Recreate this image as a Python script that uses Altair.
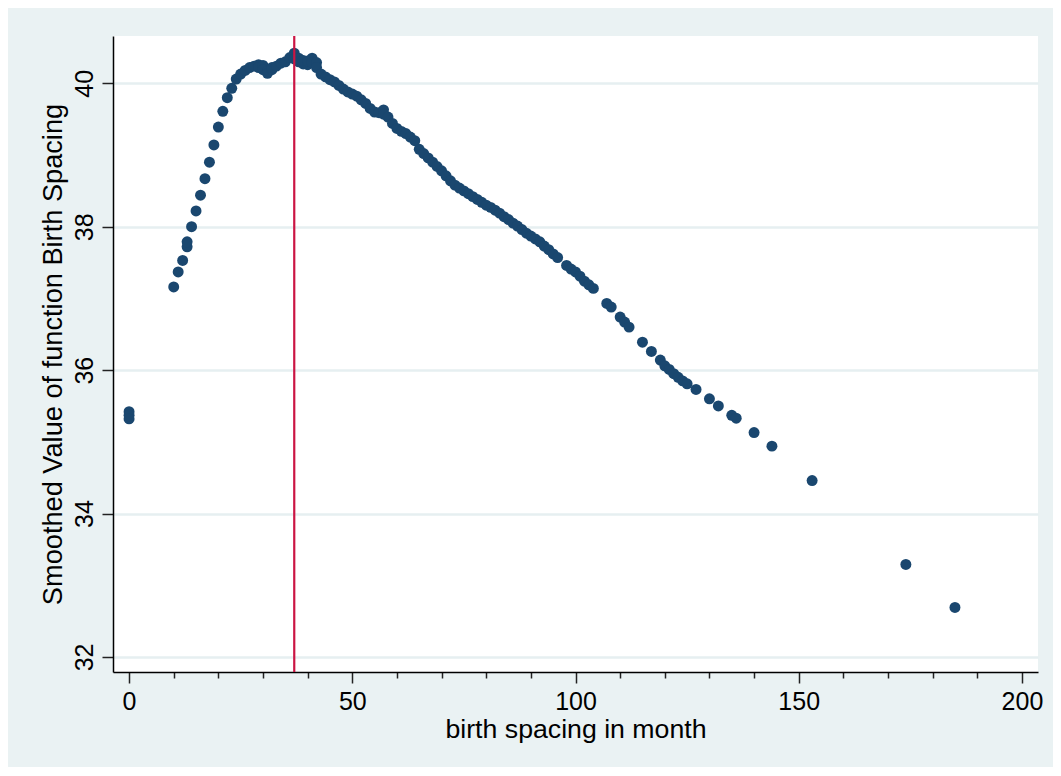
import altair as alt
import pandas as pd

# Smoothed values (month, smoothed value)
x_month = [
    0, 0, 0,
    10, 11, 12, 13, 13, 14, 15, 16, 17, 18, 19, 20, 21, 22, 23, 24, 25, 26, 27, 28, 29, 29,
    30, 30, 31, 31, 32, 32, 33, 34, 35, 36, 37, 37, 38, 38, 39, 39, 40, 40, 41, 41, 42, 42,
    43, 44, 45, 46, 47, 48, 49, 50, 51, 52, 53, 54, 55, 56, 57, 57, 58, 59, 60, 61, 62, 63, 64,
    65, 66, 67, 68, 69, 70, 71, 72, 73, 74, 75, 76, 77, 78, 79, 80, 81, 82, 83, 84, 85, 86,
    87, 88, 89, 90, 91, 92, 93, 94, 95, 96, 98, 99, 100, 101, 102, 103, 104,
    107, 108, 110, 111, 112, 115, 117, 119, 120, 121, 122, 123, 124, 125, 127,
    130, 132, 135, 136, 140, 144, 153, 174, 185,
]
y_smooth = [
    35.42, 35.37, 35.32,
    37.16, 37.37, 37.53, 37.72, 37.79, 38.00, 38.22, 38.44, 38.67, 38.90, 39.14, 39.39, 39.61,
    39.80, 39.93, 40.06, 40.13, 40.18, 40.22, 40.24, 40.26, 40.22,
    40.25, 40.19, 40.17, 40.14, 40.19, 40.22, 40.24, 40.28, 40.30, 40.36, 40.42, 40.34,
    40.35, 40.30, 40.27, 40.32, 40.26, 40.31, 40.35, 40.29, 40.29, 40.22,
    40.13, 40.09, 40.05, 40.02, 39.97, 39.92, 39.88, 39.85, 39.82, 39.77, 39.72, 39.65, 39.60,
    39.59, 39.63, 39.57, 39.53, 39.44, 39.37, 39.33, 39.30, 39.25, 39.20,
    39.08, 39.02, 38.96, 38.90, 38.84, 38.78, 38.71, 38.64, 38.58, 38.54, 38.50, 38.46, 38.42,
    38.38, 38.34, 38.30, 38.27, 38.23, 38.19, 38.14, 38.10, 38.05,
    38.01, 37.96, 37.91, 37.87, 37.83, 37.79, 37.73, 37.68, 37.62, 37.57, 37.46, 37.41, 37.37,
    37.31, 37.24, 37.19, 37.14,
    36.93, 36.88, 36.74, 36.67, 36.60, 36.39, 36.26, 36.14, 36.06, 36.01, 35.95, 35.90, 35.85,
    35.81, 35.73,
    35.60, 35.50, 35.37, 35.33, 35.13, 34.94, 34.46, 33.29, 32.69,
]
xline_at = [37]

x_ticks = list(range(0, 201, 10))
y_ticks = [32, 34, 36, 38, 40]

df = pd.DataFrame({"x": x_month, "y": y_smooth})
df_line = pd.DataFrame({"x": xline_at})

FONT = "Liberation Sans"
NAVY = "#1A476F"
RED = "#CB1543"
BG = "#EAF2F3"

x_scale = alt.Scale(domain=[-3.6, 203.6], nice=False, zero=False)
y_scale = alt.Scale(domain=[31.79, 40.66], nice=False, zero=False)

x_axis = alt.Axis(
    values=x_ticks,
    tickSize={"condition": {"test": "datum.value % 50 === 0", "value": 11}, "value": 6},
    labelExpr="datum.value % 50 === 0 ? datum.label : ''",
    labelFlush=False,
    labelOverlap=False,
    grid=False,
    domainColor="#000000",
    domainWidth=1.5,
    tickColor="#222222",
    tickWidth=1.5,
    labelFont=FONT,
    labelFontSize=25,
    labelColor="#000000",
    labelPadding=6,
    titleFont=FONT,
    titleFontSize=26.7,
    titleFontWeight="normal",
    titleColor="#000000",
    titlePadding=2,
)
y_axis = alt.Axis(
    values=y_ticks,
    tickSize=11,
    labelAngle=270,
    labelAlign="center",
    labelBaseline="alphabetic",
    labelFlush=False,
    labelOverlap=False,
    grid=True,
    gridColor="#E6EFF1",
    gridWidth=2.5,
    domainColor="#000000",
    domainWidth=1.5,
    tickColor="#222222",
    tickWidth=1.5,
    labelFont=FONT,
    labelFontSize=25,
    labelColor="#000000",
    labelPadding=10,
    titleFont=FONT,
    titleFontSize=27.2,
    titleFontWeight="normal",
    titleColor="#000000",
    titlePadding=5,
)

points = alt.Chart(df).mark_circle(size=120, color=NAVY, opacity=1).encode(
    x=alt.X("x:Q", scale=x_scale, axis=x_axis, title="birth spacing in month"),
    y=alt.Y("y:Q", scale=y_scale, axis=y_axis, title="Smoothed Value of function Birth Spacing"),
)

rule = alt.Chart(df_line).mark_rule(color=RED, strokeWidth=2.2).encode(
    x=alt.X("x:Q", scale=x_scale)
)

chart = (
    alt.layer(points, rule)
    .properties(
        width=925,
        height=636,
        background=BG,
        padding={"left": 105, "top": 28, "right": 15, "bottom": 95},
        autosize=alt.AutoSizeParams(type="none"),
    )
    .configure_view(fill="white", stroke=None)
)

chart.save("out.html", embed_options={"renderer": "svg", "actions": False})
